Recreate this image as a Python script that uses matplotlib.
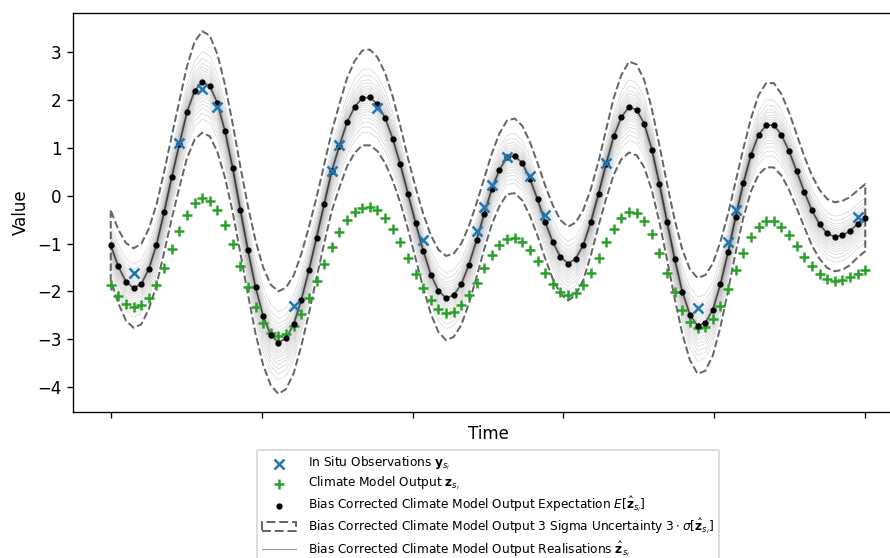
import numpy as np
import matplotlib
matplotlib.use("Agg")
import matplotlib.pyplot as plt

# time grid (100 model cells from 0 to 1)
n_points = 100
time = np.linspace(0, 1, n_points)

# bias corrected expectation E[z_hat]
expectation = [
    -1.04, -1.48, -1.80, -1.93, -1.85, -1.53, -1.03, -0.35, 0.38, 1.07,
    1.74, 2.19, 2.375, 2.29, 1.93, 1.34, 0.58, -0.29, -1.14, -1.91,
    -2.52, -2.91, -3.07, -2.98, -2.69, -2.18, -1.56, -0.88, -0.18, 0.51,
    1.04, 1.53, 1.85, 2.04, 2.05, 1.91, 1.62, 1.19, 0.65, 0.04,
    -0.57, -1.15, -1.65, -1.99, -2.14, -2.08, -1.85, -1.44, -0.93, -0.38,
    0.14, 0.54, 0.80, 0.83, 0.68, 0.35, -0.08, -0.55, -0.97, -1.28,
    -1.42, -1.32, -1.03, -0.55, 0.04, 0.66, 1.24, 1.64, 1.85, 1.79,
    1.50, 0.96, 0.24, -0.55, -1.33, -2.01, -2.49, -2.72, -2.66, -2.38,
    -1.85, -1.18, -0.44, 0.26, 0.85, 1.27, 1.47, 1.47, 1.27, 0.93,
    0.51, 0.08, -0.31, -0.60, -0.79, -0.86, -0.83, -0.74, -0.59, -0.46,
]

# 3 sigma half width of the bias corrected output
three_sigma = [
    0.73, 0.77, 0.81, 0.83, 0.84, 0.84, 0.84, 0.84, 0.86, 0.90,
    0.96, 1.02, 1.06, 1.05, 1.02, 0.97, 0.92, 0.90, 0.92, 0.97,
    1.02, 1.05, 1.07, 1.06, 1.02, 0.96, 0.90, 0.84, 0.82, 0.83,
    0.87, 0.92, 0.96, 0.99, 1.00, 0.98, 0.94, 0.88, 0.80, 0.74,
    0.74, 0.77, 0.82, 0.86, 0.88, 0.87, 0.85, 0.81, 0.77, 0.74,
    0.74, 0.76, 0.77, 0.78, 0.78, 0.77, 0.76, 0.76, 0.77, 0.77,
    0.77, 0.76, 0.73, 0.69, 0.67, 0.72, 0.80, 0.88, 0.95, 0.95,
    0.91, 0.85, 0.80, 0.79, 0.82, 0.88, 0.95, 1.00, 1.00, 0.96,
    0.89, 0.80, 0.74, 0.72, 0.76, 0.83, 0.88, 0.88, 0.85, 0.81,
    0.77, 0.74, 0.73, 0.72, 0.72, 0.72, 0.72, 0.71, 0.70, 0.70,
]

# climate model output z
climate_model = [
    -1.875, -2.10, -2.26, -2.33, -2.29, -2.13, -1.86, -1.51, -1.12, -0.73,
    -0.40, -0.16, -0.06, -0.11, -0.29, -0.61, -1.02, -1.47, -1.91, -2.33,
    -2.65, -2.86, -2.93, -2.89, -2.72, -2.47, -2.14, -1.79, -1.42, -1.08,
    -0.77, -0.51, -0.35, -0.25, -0.23, -0.31, -0.47, -0.69, -0.97, -1.30,
    -1.63, -1.93, -2.19, -2.375, -2.45, -2.43, -2.29, -2.08, -1.82, -1.52,
    -1.25, -1.03, -0.90, -0.89, -0.97, -1.14, -1.37, -1.625, -1.85, -2.01,
    -2.08, -2.03, -1.87, -1.61, -1.31, -0.97, -0.69, -0.47, -0.35, -0.37,
    -0.53, -0.81, -1.19, -1.61, -2.02, -2.39, -2.64, -2.76, -2.74, -2.58,
    -2.31, -1.94, -1.56, -1.19, -0.87, -0.65, -0.53, -0.53, -0.65, -0.83,
    -1.06, -1.28, -1.48, -1.64, -1.74, -1.78, -1.76, -1.70, -1.64, -1.56,
]

# in situ observations y (cell index, value)
obs_index = [3, 9, 12, 14, 24, 29, 30, 35, 41, 48, 49, 50, 52, 55, 57, 65, 77, 81, 82, 98]
obs_value = [-1.625, 1.10, 2.22, 1.85, -2.30, 0.52, 1.05, 1.82, -0.93, -0.74,
             -0.24, 0.22, 0.81, 0.42, -0.40, 0.69, -2.35, -0.96, -0.31, -0.44]

# realisation offsets in units of sigma
realisation_offsets = [1.8, 1.4, 1.1, 0.9, 0.7, 0.55, 0.42, 0.3, 0.2, 0.1, 0.03, -0.05,
                       -0.15, -0.25, -0.35, -0.47, -0.6, -0.75, -0.9, -1.1, -1.3, -1.55,
                       -1.85, -2.2]

mean = np.array(expectation)
sig3 = np.array(three_sigma)
sigma = sig3 / 3

fig = plt.figure(figsize=(890 / 120, 558 / 120), dpi=120)
ax = fig.add_axes([73 / 890, 1 - 412 / 558, 830 / 890, 399 / 558])

real_lines = []
for k, c in enumerate(realisation_offsets):
    l, = ax.plot(time, mean + c * sigma, color='k', alpha=0.12, linewidth=0.6,
                 label='Bias Corrected Climate Model Output Realisations $\\hat{\\mathbf{z}}_{s_i}$' if k == 0 else None)
    real_lines.append(l)
ax.plot(time, mean, color='k', alpha=0.6, linewidth=1.0)

band = ax.fill_between(time, mean - sig3, mean + sig3, facecolor='none', edgecolor='0.4',
                       linestyle='--', linewidth=1.2,
                       label='Bias Corrected Climate Model Output 3 Sigma Uncertainty $3\\cdot\\sigma[\\hat{\\mathbf{z}}_{s_i}]$')

obs_sc = ax.scatter(time[obs_index], obs_value, marker='x', color='tab:blue', zorder=4,
                    label='In Situ Observations $\\mathbf{y}_{s_i}$')
cm_sc = ax.scatter(time, climate_model, marker='+', color='tab:green', zorder=3,
                   label='Climate Model Output $\\mathbf{z}_{s_i}$')
exp_sc = ax.scatter(time, mean, marker='.', color='k', s=30, zorder=3,
                    label='Bias Corrected Climate Model Output Expectation $E[\\hat{\\mathbf{z}}_{s_i}]$')

ax.set_xticks([0, 0.2, 0.4, 0.6, 0.8, 1.0])
ax.set_xticklabels([])
ax.set_xlabel('Time', labelpad=1)
ax.set_ylabel('Value')

leg = ax.legend(handles=[obs_sc, cm_sc, exp_sc, band, real_lines[0]], fontsize=7.3,
                labelspacing=0.2, handletextpad=1.0, handlelength=2.8, borderpad=0.4,
                loc='upper center', bbox_to_anchor=(0.5, -0.08))
leg.get_lines()[0].set_alpha(0.4)

fig.savefig('out.png', dpi=120)
